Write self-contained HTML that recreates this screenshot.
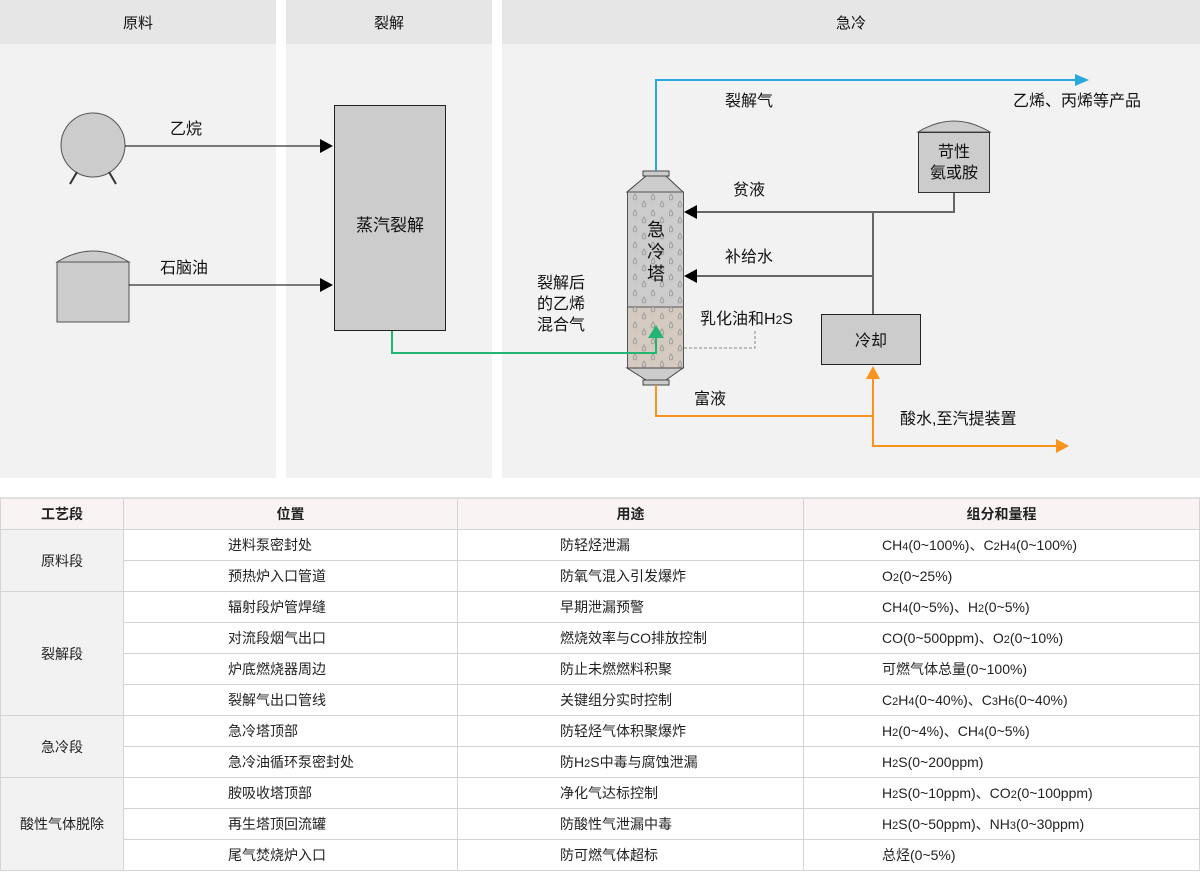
<!DOCTYPE html>
<html><head><meta charset="utf-8"><style>
body{margin:0;width:1200px;height:879px;background:#fff;font-family:"Liberation Sans","Noto Sans CJK SC",sans-serif;position:relative;overflow:hidden}
svg text{font-family:"Liberation Sans","Noto Sans CJK SC",sans-serif;fill:#111}
table{position:absolute;left:0;top:497px;width:1200px;border-collapse:collapse;font-size:14px;color:#222}
td,th{border:1px solid #d4d4d4;height:30px;padding:0;font-weight:normal}
th{background:#f9f3f3;font-weight:bold;text-align:center;border-top:2px solid #e0e0e0}
td.s{background:#f2f2f2;text-align:center}
td.l{padding-left:104px}
td.m{padding-left:102px}
td.r{padding-left:78px}
small{font-size:11px}
</style></head><body>
<svg width="1200" height="480" style="position:absolute;left:0;top:0">
<defs>
<pattern id="drops" width="18" height="16" patternUnits="userSpaceOnUse">
<path d="M5 2 q-3.5 5 0 6 q3.5 -1 0 -6z M14 9 q-3.5 5 0 6 q3.5 -1 0 -6z" fill="none" stroke="#999" stroke-width="0.9"/>
</pattern>
</defs>
<rect x="0" y="0" width="276" height="478" fill="#f2f2f2"/>
<rect x="286" y="0" width="206" height="478" fill="#f2f2f2"/>
<rect x="502" y="0" width="698" height="478" fill="#f2f2f2"/>
<rect x="0" y="0" width="276" height="44" fill="#e6e6e6"/>
<rect x="286" y="0" width="206" height="44" fill="#e6e6e6"/>
<rect x="502" y="0" width="698" height="44" fill="#e6e6e6"/>
<text x="138" y="28" font-size="15" text-anchor="middle">原料</text>
<text x="389" y="28" font-size="15" text-anchor="middle">裂解</text>
<text x="851" y="28" font-size="15" text-anchor="middle">急冷</text>
<circle cx="93" cy="145" r="32" fill="#ccc" stroke="#555"/>
<line x1="77" y1="172" x2="70" y2="184" stroke="#333" stroke-width="2"/>
<line x1="109" y1="172" x2="116" y2="184" stroke="#333" stroke-width="2"/>
<line x1="125" y1="146" x2="320" y2="146" stroke="#000"/>
<path d="M320 139L333 146L320 153z"/>
<text x="170" y="134" font-size="16">乙烷</text>
<path d="M57 262 Q93 240 129 262 Z" fill="#ccc" stroke="#555"/>
<rect x="57" y="262" width="72" height="60" fill="#ccc" stroke="#555"/>
<line x1="129" y1="285" x2="320" y2="285" stroke="#000"/>
<path d="M320 278L333 285L320 292z"/>
<text x="160" y="273" font-size="16">石脑油</text>
<rect x="334.5" y="105.5" width="111" height="225" fill="#ccc" stroke="#222"/>
<text x="390" y="231" font-size="17" text-anchor="middle">蒸汽裂解</text>
<!-- tower -->
<rect x="643" y="171" width="26" height="5" fill="#ccc" stroke="#444"/>
<path d="M646 176 L666 176 L683 192 L627 192 Z" fill="#ccc" stroke="#444"/>
<rect x="627.5" y="192" width="56" height="115" fill="#ccc" stroke="#555"/>
<rect x="627.5" y="307" width="56" height="61" fill="#d4cac0" stroke="#555"/>
<rect x="628" y="192" width="55" height="176" fill="url(#drops)"/>
<path d="M627 368 L683 368 L666 380 L646 380 Z" fill="#ccc" stroke="#444"/>
<rect x="643" y="380" width="26" height="5" fill="#ccc" stroke="#444"/>
<text x="656" y="236" font-size="18" text-anchor="middle">急</text>
<text x="656" y="258" font-size="18" text-anchor="middle">冷</text>
<text x="656" y="280" font-size="18" text-anchor="middle">塔</text>
<!-- green -->
<polyline points="392,331 392,353 656,353 656,336" fill="none" stroke="#22b573" stroke-width="2"/>
<path d="M648 338L656 325L664 338z" fill="#22b573"/>
<polyline points="656,171 656,80 1077,80" fill="none" stroke="#29a8e0" stroke-width="2"/>
<path d="M1075 74L1089 80L1075 86z" fill="#29a8e0"/>
<text x="725" y="106" font-size="16">裂解气</text>
<text x="1013" y="106" font-size="16">乙烯、丙烯等产品</text>
<path d="M918 132 Q954 110 990 132 Z" fill="#ccc" stroke="#555"/>
<rect x="918.5" y="132.5" width="71" height="60" fill="#ccc" stroke="#333"/>
<text x="954" y="157" font-size="16" text-anchor="middle">苛性</text>
<text x="954" y="178" font-size="16" text-anchor="middle">氨或胺</text>
<g stroke="#666" stroke-width="2" fill="none">
<polyline points="954,193 954,212 695,212"/>
<line x1="873" y1="212" x2="873" y2="314"/>
<line x1="873" y1="276" x2="695" y2="276"/>
</g>
<path d="M697 205L684 212L697 219z"/>
<path d="M697 269L684 276L697 283z"/>
<text x="733" y="195" font-size="16">贫液</text>
<text x="725" y="262" font-size="16">补给水</text>
<rect x="821.5" y="314.5" width="99" height="50" fill="#ccc" stroke="#222"/>
<text x="871" y="346" font-size="16" text-anchor="middle">冷却</text>
<polyline points="684,348 755,348 755,330" fill="none" stroke="#888" stroke-dasharray="3,2"/>
<text x="700" y="324" font-size="16">乳化油和H<tspan font-size="12">2</tspan>S</text>
<text x="537" y="288" font-size="16">裂解后</text>
<text x="537" y="309" font-size="16">的乙烯</text>
<text x="537" y="330" font-size="16">混合气</text>
<g stroke="#f7931e" stroke-width="2" fill="none">
<polyline points="656,385 656,416 873,416"/>
<polyline points="873,378 873,446 1058,446"/>
</g>
<path d="M866 379L873 366L880 379z" fill="#f7931e"/>
<path d="M1056 439L1069 446L1056 453z" fill="#f7931e"/>
<text x="694" y="404" font-size="16">富液</text>
<text x="900" y="424" font-size="16">酸水,至汽提装置</text>
</svg>
<table>
<colgroup><col style="width:123px"><col style="width:334px"><col style="width:346px"><col></colgroup>
<tr><th>工艺段</th><th>位置</th><th>用途</th><th>组分和量程</th></tr>
<tr><td class="s" rowspan="2">原料段</td><td class="l">进料泵密封处</td><td class="m">防轻烃泄漏</td><td class="r">CH<small>4</small>(0~100%)、C<small>2</small>H<small>4</small>(0~100%)</td></tr>
<tr><td class="l">预热炉入口管道</td><td class="m">防氧气混入引发爆炸</td><td class="r">O<small>2</small>(0~25%)</td></tr>
<tr><td class="s" rowspan="4">裂解段</td><td class="l">辐射段炉管焊缝</td><td class="m">早期泄漏预警</td><td class="r">CH<small>4</small>(0~5%)、H<small>2</small>(0~5%)</td></tr>
<tr><td class="l">对流段烟气出口</td><td class="m">燃烧效率与CO排放控制</td><td class="r">CO(0~500ppm)、O<small>2</small>(0~10%)</td></tr>
<tr><td class="l">炉底燃烧器周边</td><td class="m">防止未燃燃料积聚</td><td class="r">可燃气体总量(0~100%)</td></tr>
<tr><td class="l">裂解气出口管线</td><td class="m">关键组分实时控制</td><td class="r">C<small>2</small>H<small>4</small>(0~40%)、C<small>3</small>H<small>6</small>(0~40%)</td></tr>
<tr><td class="s" rowspan="2">急冷段</td><td class="l">急冷塔顶部</td><td class="m">防轻烃气体积聚爆炸</td><td class="r">H<small>2</small>(0~4%)、CH<small>4</small>(0~5%)</td></tr>
<tr><td class="l">急冷油循环泵密封处</td><td class="m">防H<small>2</small>S中毒与腐蚀泄漏</td><td class="r">H<small>2</small>S(0~200ppm)</td></tr>
<tr><td class="s" rowspan="3">酸性气体脱除</td><td class="l">胺吸收塔顶部</td><td class="m">净化气达标控制</td><td class="r">H<small>2</small>S(0~10ppm)、CO<small>2</small>(0~100ppm)</td></tr>
<tr><td class="l">再生塔顶回流罐</td><td class="m">防酸性气泄漏中毒</td><td class="r">H<small>2</small>S(0~50ppm)、NH<small>3</small>(0~30ppm)</td></tr>
<tr><td class="l">尾气焚烧炉入口</td><td class="m">防可燃气体超标</td><td class="r">总烃(0~5%)</td></tr>
</table>
</body></html>
